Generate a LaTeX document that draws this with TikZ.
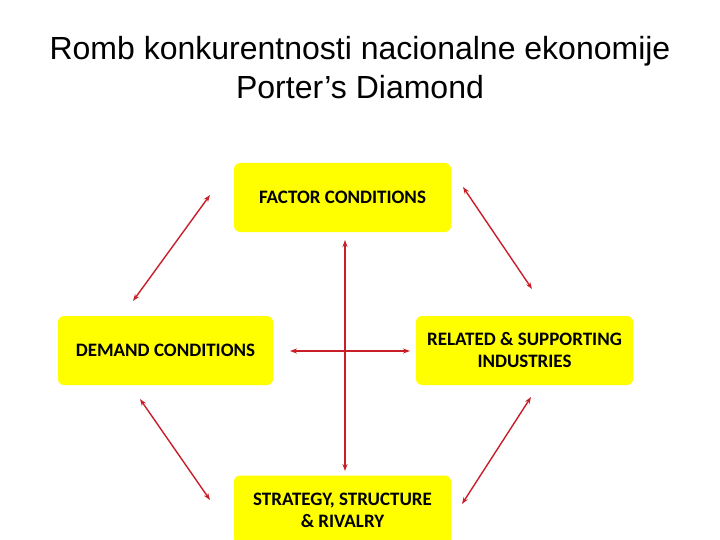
\documentclass[tikz,border=0pt]{standalone}
\usepackage{fontspec}
\setmainfont{Liberation Sans}
\newfontfamily\boxfont{Carlito}
\usetikzlibrary{arrows.meta}
\definecolor{boxyellow}{RGB}{255,255,0}
\definecolor{arrred}{RGB}{200,30,40}
\tikzset{
  box/.style={fill=boxyellow,rounded corners=6pt,minimum width=217pt,minimum height=69pt,align=center,font=\boxfont\bfseries\fontsize{19}{22}\selectfont,text=black},
  arr/.style={draw=arrred,line width=1.4pt,{Stealth[length=7pt,width=5pt]}-{Stealth[length=7pt,width=5pt]}}
}
\begin{document}
\begin{tikzpicture}[x=1pt,y=-1pt]
\useasboundingbox (0,0) rectangle (720,540);
\node[font=\fontsize{32}{39}\selectfont,align=center] (title) at (360,68) {Romb konkurentnosti nacionalne ekonomije\\Porter’s Diamond};
\node[box] (factor) at (342.5,197.5) {FACTOR CONDITIONS};
\node[box,minimum width=215pt] (demand) at (165.5,350.5) {DEMAND CONDITIONS};
\node[box] (related) at (524.5,350.5) {RELATED \& SUPPORTING\\INDUSTRIES};
\begin{scope}
\clip (0,0) rectangle (720,540);
\node[box] (strategy) at (342.5,510) {STRATEGY, STRUCTURE\\\& RIVALRY};
\end{scope}
\coordinate (a1) at (210,195); \coordinate (a2) at (133,301);
\coordinate (b1) at (463,187); \coordinate (b2) at (532,289);
\coordinate (c1) at (140,399); \coordinate (c2) at (210,500);
\coordinate (d1) at (531,397); \coordinate (d2) at (462,504);
\coordinate (v1) at (345,240); \coordinate (v2) at (345,471);
\coordinate (h1) at (290,351); \coordinate (h2) at (410,351);
\draw[arr] (a1) -- (a2);
\draw[arr] (b1) -- (b2);
\draw[arr] (c1) -- (c2);
\draw[arr] (d1) -- (d2);
\draw[arr] (v1) -- (v2);
\draw[arr] (h1) -- (h2);
\end{tikzpicture}
\end{document}
